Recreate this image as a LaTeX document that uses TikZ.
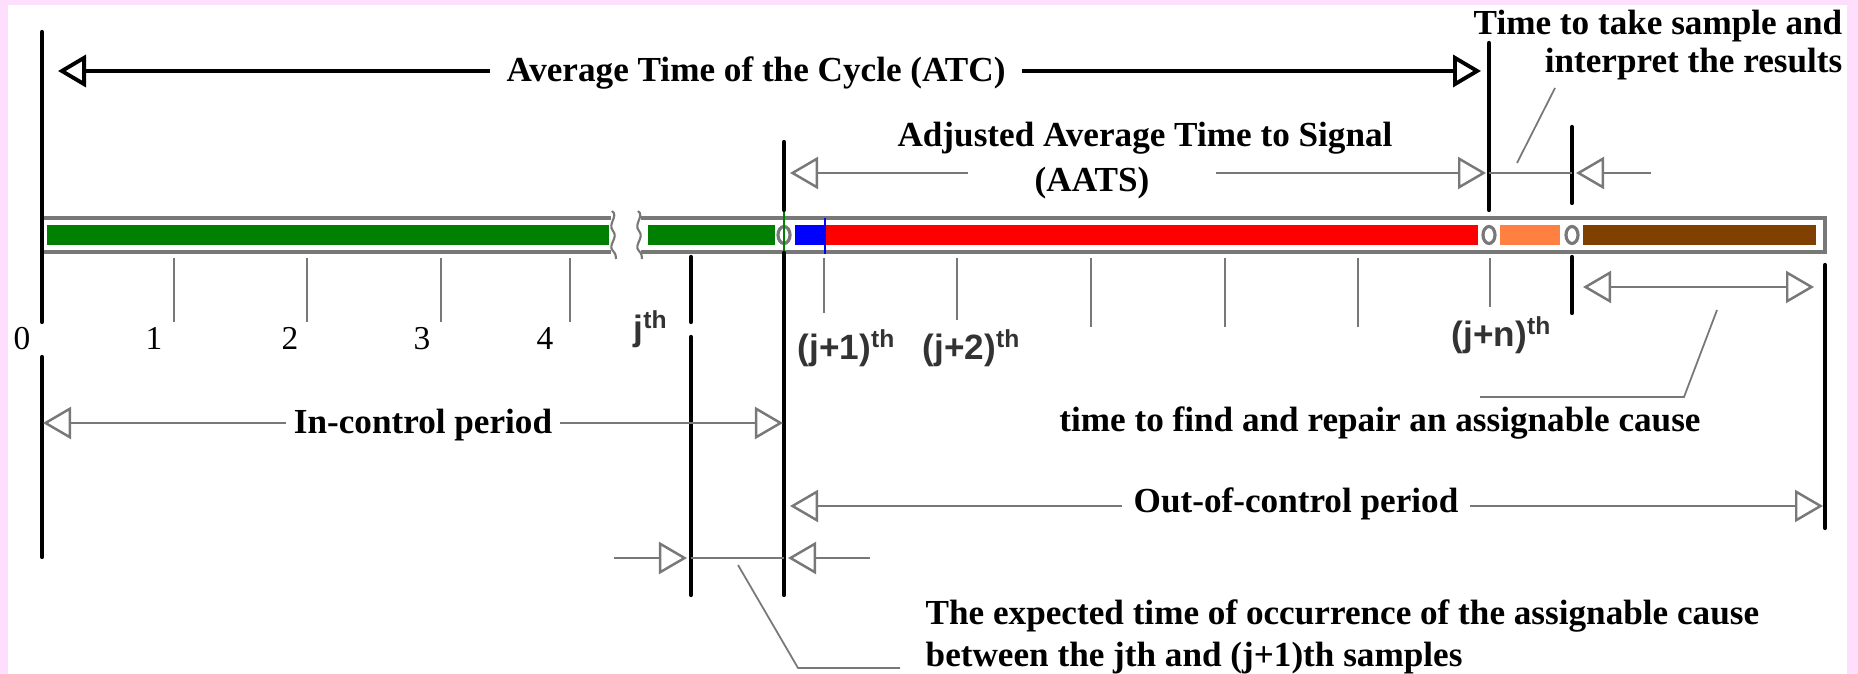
\documentclass[tikz,border=0pt]{standalone}
\usepackage{fontspec}
\setmainfont{Liberation Serif}
\setsansfont{Liberation Sans}
\usetikzlibrary{arrows.meta,positioning}

\definecolor{pinkbg}{RGB}{253,222,253}
\definecolor{bargreen}{RGB}{0,128,0}
\definecolor{barblue}{RGB}{0,0,255}
\definecolor{barred}{RGB}{255,0,0}
\definecolor{barorange}{RGB}{255,128,64}
\definecolor{barbrown}{RGB}{128,64,0}
\definecolor{dimgrey}{RGB}{120,120,120}

\begin{document}
\begin{tikzpicture}[x=0.01cm,y=-0.01cm,
  >={Triangle[fill=white,length=2.8mm,width=3.2mm]},
  lbl/.style={font=\fontsize{10}{12}\selectfont\bfseries, inner sep=0pt},
  numlbl/.style={font=\fontsize{9.5}{11}\selectfont, inner sep=0pt, anchor=base},
  smp/.style={font=\fontsize{10}{12}\selectfont\sffamily\bfseries, text=black!80, inner sep=0pt, anchor=base},
  bound/.style={line width=1.2pt, line cap=round},
  tickline/.style={dimgrey, line width=0.6pt},
  barline/.style={dimgrey, line width=0.9pt},
  dimarrow/.style={dimgrey, line width=0.7pt, ->},
  dimline/.style={dimgrey, line width=0.7pt},
  leader/.style={dimgrey, line width=0.5pt},
  atcarrow/.style={line width=1.1pt, ->}]
  \useasboundingbox (0,0) rectangle (1858,674);
  \fill[pinkbg] (0,0) rectangle (1858,674);
  \fill[white] (8,5) rectangle (1847,674);

  \draw[barline] (40,218) -- (611,218) (40,252) -- (611,252);
  \draw[barline] (641,218) -- (1825,218) -- (1825,252) -- (641,252);
  \fill[bargreen] (47,225) rectangle (609,245);
  \fill[bargreen] (648,225) rectangle (775,245);
  \fill[barblue] (795,225) rectangle (825,245);
  \draw[barblue, line width=0.4pt] (825,218) -- (825,254);
  \fill[barred] (826,225) rectangle (1478,245);
  \fill[barorange] (1500,225) rectangle (1560,245);
  \fill[barbrown] (1583,225) rectangle (1816,245);
  \foreach \sx in {612,638}
    \draw[dimgrey, line width=0.6pt] (\sx,211) .. controls (\sx+7,216) and (\sx-5,224) .. (\sx+1,231)
      .. controls (\sx+7,238) and (\sx-5,245) .. (\sx+1,251) .. controls (\sx+4,254) and (\sx+4,257) .. (\sx+4,259);
  \foreach \cx in {784,1489,1572}
    \draw[dimgrey, line width=0.9pt, fill=white] (\cx,235) ellipse [x radius=0.6mm, y radius=0.85mm];
  \draw[bargreen, line width=0.5pt] (784,210) -- (784,253);

  \draw[bound] (42,32) -- (42,322) (42,357) -- (42,557);
  \draw[bound] (691,257) -- (691,322) (691,337) -- (691,595);
  \draw[bound] (784,142) -- (784,210) (784,253) -- (784,595);
  \draw[bound] (1489,43) -- (1489,210);
  \draw[bound] (1572,127) -- (1572,203) (1572,257) -- (1572,313);
  \draw[bound] (1825,265) -- (1825,528);

  \foreach \tx/\ty in {174/322,307/322,441/322,570/322,824/313,957/320,1091/327,1225/327,1358/327,1490/307}
    \draw[tickline] (\tx,258) -- (\tx,\ty);
  \foreach \i/\nx in {0/22,1/154,2/290,3/422,4/545}
    \node[numlbl] (n\i) at (\nx,350) {\i};
  \node[smp] (sj) at (651,341) {j\textsuperscript{th}};
  \node[smp] (s1) at (847,360) {(j+1)\textsuperscript{th}};
  \node[smp] (s2) at (972,360) {(j+2)\textsuperscript{th}};
  \node[smp] (sn) at (1502,347) {(j+n)\textsuperscript{th}};

  \node[lbl, anchor=base, inner xsep=4.5pt] (atc) at (756,82) {Average Time of the Cycle (ATC)};
  \coordinate (atcL) at (58,71);
  \coordinate (atcR) at (1481,71);
  \draw[atcarrow] (atc.west |- atcL) -- (atcL);
  \draw[atcarrow] (atc.east |- atcR) -- (atcR);

  \node[lbl, anchor=base] (aatst) at (1145,147) {Adjusted Average Time to Signal};
  \node[lbl, anchor=base, minimum width=2.47cm] (aats) at (1092,192) {(AATS)};
  \coordinate (aatsL) at (790,173);
  \coordinate (aatsR) at (1486,173);
  \draw[dimarrow] (aats.west |- aatsL) -- (aatsL);
  \draw[dimarrow] (aats.east |- aatsR) -- (aatsR);

  \node[lbl, anchor=base east] (tts) at (1843,35) {Time to take sample and};
  \node[lbl, anchor=base east] (tti) at (1843,73) {interpret the results};
  \coordinate (sL) at (1489,173);
  \coordinate (sR) at (1572,173);
  \coordinate (sS) at (1651,173);
  \coordinate (ttsA) at (1555,88);
  \draw[dimline] (sL) -- (sR);
  \draw[dimarrow] (sS) -- (1576,173);
  \draw[leader] (1517,163) -- (ttsA);

  \coordinate (rpL) at (1583,287);
  \coordinate (rpR) at (1814,287);
  \draw[dimarrow, <->] (rpL) -- (rpR);
  \node[lbl, anchor=base] (rp) at (1380,432) {time to find and repair an assignable cause};
  \draw[leader] (1717,310) -- (1684,397) -- (1480,397);

  \coordinate (icL) at (43,423);
  \coordinate (icR) at (783,423);
  \node[lbl, anchor=base, inner xsep=2pt] (ic) at (423,434) {In-control period};
  \draw[dimarrow] (ic.west |- icL) -- (icL);
  \draw[dimarrow] (ic.east |- icR) -- (icR);

  \coordinate (ocL) at (790,506);
  \coordinate (ocR) at (1823,506);
  \node[lbl, anchor=base, inner xsep=3pt] (oc) at (1296,513) {Out-of-control period};
  \draw[dimarrow] (oc.west |- ocL) -- (ocL);
  \draw[dimarrow] (oc.east |- ocR) -- (ocR);

  \coordinate (exL) at (691,558);
  \coordinate (exR) at (784,558);
  \draw[dimarrow] (614,558) -- (687,558);
  \draw[dimline] (exL) -- (exR);
  \draw[dimarrow] (870,558) -- (788,558);
  \node[lbl, anchor=base west] (ex1) at (925,625) {The expected time of occurrence of the assignable cause};
  \node[lbl, anchor=base west] (ex2) at (925,667) {between the jth and (j+1)th samples};
  \draw[leader] (738,565) -- (798,668) -- (900,668);
\end{tikzpicture}
\end{document}
